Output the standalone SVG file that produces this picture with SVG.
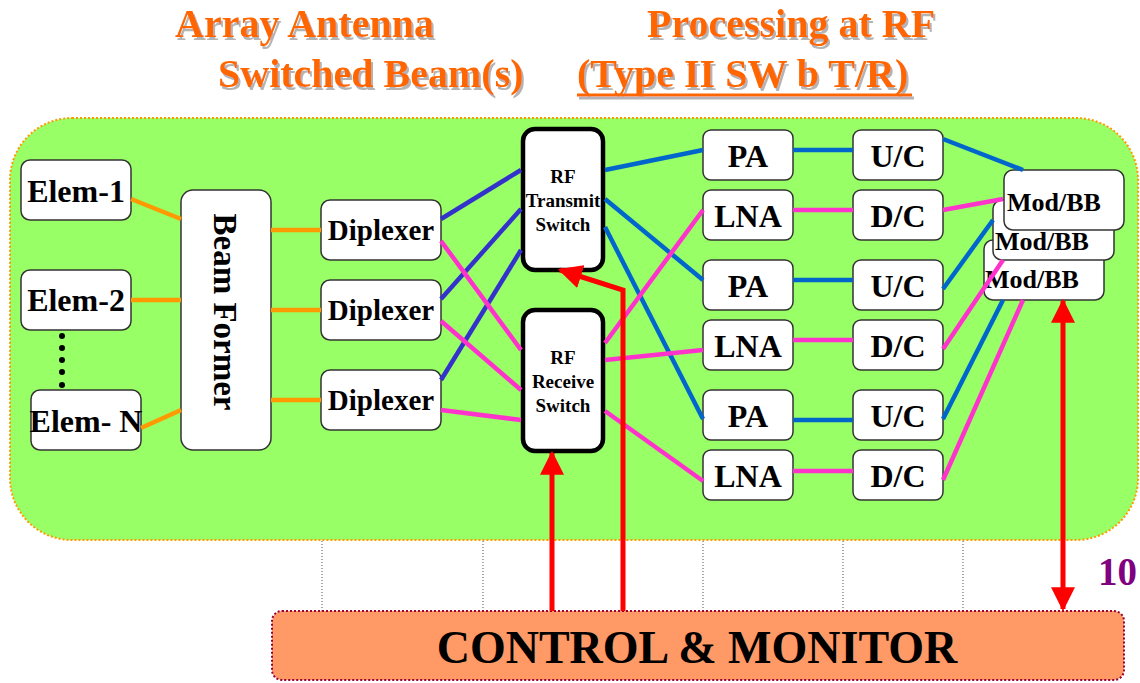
<svg xmlns="http://www.w3.org/2000/svg" width="1140" height="683" viewBox="0 0 1140 683">
<defs>
<style>
.t{font-family:"Liberation Serif","Times New Roman",serif;font-weight:bold;}
.title{font-size:40px;fill:#FF6600;}
.box{fill:#FFFFFF;stroke:#333333;stroke-width:1.5;}
.sw{fill:#FFFFFF;stroke:#000000;stroke-width:4.5;}
.n32{font-size:32px;fill:#000;text-anchor:middle;}
.n29{font-size:29px;fill:#000;text-anchor:middle;}
.n19{font-size:19px;fill:#000;text-anchor:middle;}
.mb{font-size:26px;fill:#000;}
.or{stroke:#FF9900;stroke-width:4.5;fill:none;}
.db{stroke:#3333CC;stroke-width:4.5;fill:none;}
.bl{stroke:#0066CC;stroke-width:4.5;fill:none;}
.pk{stroke:#FF33CC;stroke-width:4.5;fill:none;}
.rd{stroke:#FF0000;stroke-width:5;fill:none;}
.vd{stroke:#555555;stroke-width:1;stroke-dasharray:1 2;}
</style>
<filter id="shadow" x="-5%" y="-20%" width="110%" height="150%">
<feOffset in="SourceAlpha" dx="2" dy="3" result="o"/>
<feFlood flood-color="#B4B4B4"/>
<feComposite in2="o" operator="in" result="s"/>
<feMerge><feMergeNode in="s"/><feMergeNode in="SourceGraphic"/></feMerge>
</filter>
<marker id="ah" markerUnits="userSpaceOnUse" markerWidth="24" markerHeight="24" refX="20" refY="11" orient="auto-start-reverse" viewBox="0 0 22 22">
<path d="M0,0 L22,11 L0,22 z" fill="#FF0000"/>
</marker>
</defs>

<!-- titles -->
<g id="titles" filter="url(#shadow)">
<text class="t title" x="175" y="37">Array Antenna</text>
<text class="t title" x="218" y="87">Switched Beam(s)</text>
<text class="t title" x="647" y="37">Processing at RF</text>
<text class="t title" x="577" y="87">(Type II SW b T/R)</text>
<line x1="577" y1="95" x2="912" y2="95" stroke="#FF6600" stroke-width="3"/>
</g>

<!-- green panel -->
<rect id="panel" x="10" y="118" width="1128" height="422" rx="62" ry="62" fill="#99FF66" stroke="#FF9900" stroke-width="2" stroke-dasharray="2 2"/>

<!-- dotted verticals -->
<g id="dotted">
<line class="vd" x1="322" y1="541" x2="322" y2="611"/>
<line class="vd" x1="483" y1="541" x2="483" y2="611"/>
<line class="vd" x1="703" y1="541" x2="703" y2="611"/>
<line class="vd" x1="843" y1="541" x2="843" y2="611"/>
<line class="vd" x1="963" y1="541" x2="963" y2="611"/>
</g>

<!-- nodes -->
<g id="elem1"><rect class="box" x="21" y="160" width="110" height="60" rx="9"/><text class="t n32" x="76" y="202">Elem-1</text></g>
<g id="elem2"><rect class="box" x="21" y="270" width="110" height="60" rx="9"/><text class="t n32" x="76" y="311">Elem-2</text></g>
<g id="dots">
<circle cx="62" cy="336" r="3"/><circle cx="62" cy="348" r="3"/><circle cx="62" cy="360" r="3"/><circle cx="62" cy="372" r="3"/><circle cx="62" cy="385" r="3"/>
</g>
<g id="elemN"><rect class="box" x="31" y="390" width="110" height="60" rx="9"/><text class="t n32" x="86" y="432">Elem- N</text></g>
<g id="beamformer"><rect class="box" x="181" y="190" width="90" height="260" rx="12"/><text class="t n32" transform="translate(214,312) rotate(90)" style="font-size:33px">Beam Former</text></g>

<g id="dip1"><rect class="box" x="321" y="200" width="120" height="60" rx="9"/><text class="t n29" x="381" y="240">Diplexer</text></g>
<g id="dip2"><rect class="box" x="321" y="280" width="120" height="60" rx="9"/><text class="t n29" x="381" y="320">Diplexer</text></g>
<g id="dip3"><rect class="box" x="321" y="370" width="120" height="60" rx="9"/><text class="t n29" x="381" y="410">Diplexer</text></g>

<g id="txswitch"><rect class="sw" x="523" y="129" width="80" height="141" rx="12"/>
<text class="t n19" x="563" y="183">RF</text><text class="t n19" x="563" y="207">Transmit</text><text class="t n19" x="563" y="231">Switch</text></g>
<g id="rxswitch"><rect class="sw" x="523" y="310" width="80" height="141" rx="12"/>
<text class="t n19" x="563" y="364">RF</text><text class="t n19" x="563" y="388">Receive</text><text class="t n19" x="563" y="412">Switch</text></g>

<g id="pa1"><rect class="box" x="703" y="130" width="90" height="50" rx="8"/><text class="t n32" x="748" y="167">PA</text></g>
<g id="lna1"><rect class="box" x="703" y="190" width="90" height="50" rx="8"/><text class="t n32" x="748" y="227">LNA</text></g>
<g id="pa2"><rect class="box" x="703" y="260" width="90" height="50" rx="8"/><text class="t n32" x="748" y="297">PA</text></g>
<g id="lna2"><rect class="box" x="703" y="320" width="90" height="50" rx="8"/><text class="t n32" x="748" y="357">LNA</text></g>
<g id="pa3"><rect class="box" x="703" y="390" width="90" height="50" rx="8"/><text class="t n32" x="748" y="427">PA</text></g>
<g id="lna3"><rect class="box" x="703" y="450" width="90" height="50" rx="8"/><text class="t n32" x="748" y="487">LNA</text></g>

<g id="uc1"><rect class="box" x="853" y="130" width="90" height="50" rx="8"/><text class="t n32" x="898" y="167">U/C</text></g>
<g id="dc1"><rect class="box" x="853" y="190" width="90" height="50" rx="8"/><text class="t n32" x="898" y="227">D/C</text></g>
<g id="uc2"><rect class="box" x="853" y="260" width="90" height="50" rx="8"/><text class="t n32" x="898" y="297">U/C</text></g>
<g id="dc2"><rect class="box" x="853" y="320" width="90" height="50" rx="8"/><text class="t n32" x="898" y="357">D/C</text></g>
<g id="uc3"><rect class="box" x="853" y="390" width="90" height="50" rx="8"/><text class="t n32" x="898" y="427">U/C</text></g>
<g id="dc3"><rect class="box" x="853" y="450" width="90" height="50" rx="8"/><text class="t n32" x="898" y="487">D/C</text></g>

<g id="modbb3"><rect class="box" x="984" y="240" width="120" height="60" rx="9"/><text class="t mb" x="985" y="288">Mod/BB</text></g>
<g id="modbb2"><rect class="box" x="993" y="200" width="121" height="60" rx="9"/><text class="t mb" x="995" y="250">Mod/BB</text></g>
<g id="modbb1"><rect class="box" x="1004" y="170" width="120" height="60" rx="9"/><text class="t mb" x="1007" y="211">Mod/BB</text></g>

<g id="control"><rect x="272" y="611" width="852" height="69" rx="10" fill="#FF9966" stroke="#990033" stroke-width="2" stroke-dasharray="2 2"/>
<text class="t" x="697" y="663" style="font-size:46px;fill:#000;text-anchor:middle">CONTROL &amp; MONITOR</text></g>

<text id="label10" class="t" x="1098" y="585" style="font-size:39px;fill:#800080">10</text>

<!-- connectors -->
<g id="connectors">
<line class="or" x1="131" y1="199" x2="181" y2="219"/>
<line class="or" x1="131" y1="300" x2="181" y2="300"/>
<line class="or" x1="141" y1="428" x2="181" y2="410"/>
<line class="or" x1="271" y1="230" x2="321" y2="230"/>
<line class="or" x1="271" y1="310" x2="321" y2="310"/>
<line class="or" x1="271" y1="400" x2="321" y2="400"/>

<line class="db" x1="441" y1="219" x2="521" y2="170"/>
<line class="db" x1="441" y1="299" x2="521" y2="209"/>
<line class="db" x1="441" y1="380" x2="521" y2="250"/>
<line class="pk" x1="441" y1="241" x2="521" y2="350"/>
<line class="pk" x1="441" y1="321" x2="521" y2="390"/>
<line class="pk" x1="441" y1="410" x2="521" y2="420"/>

<line class="bl" x1="605" y1="170" x2="703" y2="150"/>
<line class="bl" x1="605" y1="199" x2="703" y2="280"/>
<line class="bl" x1="605" y1="227" x2="703" y2="419"/>
<line class="pk" x1="605" y1="343" x2="703" y2="210"/>
<line class="pk" x1="605" y1="360" x2="703" y2="350"/>
<line class="pk" x1="605" y1="411" x2="703" y2="481"/>

<line class="bl" x1="793" y1="150" x2="853" y2="150"/>
<line class="pk" x1="793" y1="210" x2="853" y2="210"/>
<line class="bl" x1="793" y1="280" x2="853" y2="280"/>
<line class="pk" x1="793" y1="340" x2="853" y2="340"/>
<line class="bl" x1="793" y1="420" x2="853" y2="420"/>
<line class="pk" x1="793" y1="471" x2="853" y2="471"/>

<line class="bl" x1="943" y1="139" x2="1023" y2="170"/>
<line class="pk" x1="943" y1="210" x2="1003" y2="199"/>
<line class="bl" x1="943" y1="289" x2="993" y2="220"/>
<line class="pk" x1="943" y1="349" x2="1003" y2="260"/>
<line class="bl" x1="943" y1="419" x2="1003" y2="300"/>
<line class="pk" x1="943" y1="480" x2="1023" y2="300"/>

<line class="rd" x1="552" y1="611" x2="552" y2="453" marker-end="url(#ah)"/>
<polyline class="rd" points="623,611 623,290 560,270" marker-end="url(#ah)"/>
<line class="rd" x1="1063" y1="301" x2="1063" y2="609" marker-start="url(#ah)" marker-end="url(#ah)"/>
</g>
</svg>
